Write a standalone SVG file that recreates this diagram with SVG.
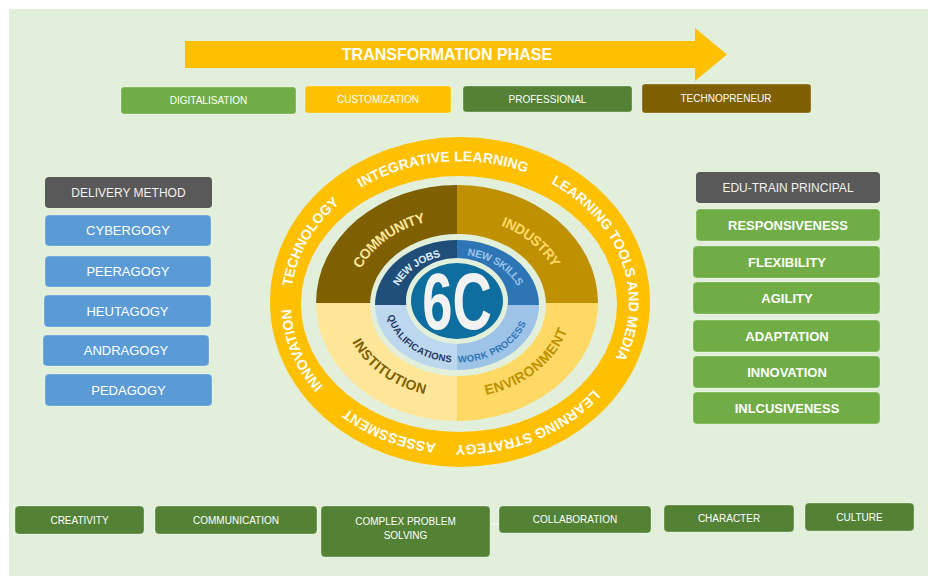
<svg xmlns="http://www.w3.org/2000/svg" width="928" height="576" viewBox="0 0 928 576">
  <style>
    .lbl { font-family: "Liberation Sans", Arial, sans-serif; text-anchor: middle; }
    .small { font-size: 10px; fill: #ffffff; }
    .method { font-size: 13px; fill: #ffffff; }
    .principle { font-size: 13px; font-weight: bold; fill: #ffffff; }
    .head { font-size: 12px; fill: #f2f2f2; }
    .ring { font-family: "Liberation Sans", Arial, sans-serif; font-size: 14px; font-weight: bold; fill: #ffffff; letter-spacing: 0.3px; }
    .quad { font-family: "Liberation Sans", Arial, sans-serif; font-size: 14px; font-weight: bold; }
    .core { font-family: "Liberation Sans", Arial, sans-serif; font-weight: bold; }
    .box { stroke: #ffffff; stroke-opacity: 0.3; stroke-width: 1; }
  </style>
  <defs>
    <!-- text guides on the outer ring (clockwise) -->
    <path id="pIntegrative" d="M290.5,269.9 A174,147 0 0 1 615.0,236.3"/>
    <path id="pTools" d="M472.1,156.4 A174,147 0 0 1 562.3,421.9"/>
    <path id="pStrategy" d="M632.3,282.5 A174,147 0 0 1 343.6,412.2"/>
    <path id="pAssessment" d="M576.4,412.2 A174,147 0 0 1 287.7,282.5"/>
    <path id="pInnovation" d="M450.9,449.8 A174,147 0 0 1 355.3,185.6"/>
    <path id="pTechnology" d="M341.3,410.5 A174,147 0 0 1 469.1,156.2"/>
    <!-- quadrant label guides -->
    <path id="pCommunity" d="M350.7,326.3 A110,90 0 0 1 485.5,216.1"/>
    <path id="pIndustry" d="M435.1,214.8 A110,90 0 0 1 561.3,331.6"/>
    <path id="pInstitution" d="M350.5,280.5 A110,90 0 0 0 486.4,389.7"/>
    <path id="pEnvironment" d="M432.3,390.7 A110,90 0 0 0 562.2,276.7"/>
    <!-- inner blue ring guides -->
    <path id="pJobs" d="M392.3,319.0 A68,54 0 0 1 475.6,252.8"/>
    <path id="pSkills" d="M436.2,253.9 A68,54 0 0 1 524.7,315.6"/>
    <path id="pQual" d="M392.3,291.0 A68,54 0 0 0 475.6,357.2"/>
    <path id="pWork" d="M433.1,355.2 A68,54 0 0 0 525.3,297.0"/>
  </defs>

  <!-- page -->
  <rect x="0" y="0" width="928" height="576" fill="#ffffff"/>
  <rect x="9" y="9" width="919" height="567" fill="#e2efda"/>

  <!-- phase arrow -->
  <g id="transformation-phase">
    <polygon points="185,41 695,41 695,28 727,54.5 695,81 695,68 185,68" fill="#ffc000"/>
    <text class="lbl" x="447" y="60" font-size="16" font-weight="bold" fill="#ffffff">TRANSFORMATION PHASE</text>
  </g>

  <!-- phase steps -->
  <g id="digitalisation">
    <rect class="box" x="121" y="87" width="175" height="27" rx="3" fill="#70ad47"/>
    <text class="lbl small" x="208.5" y="104">DIGITALISATION</text>
  </g>
  <g id="customization">
    <rect class="box" x="305" y="86" width="146" height="27" rx="3" fill="#ffc000"/>
    <text class="lbl small" x="378" y="103">CUSTOMIZATION</text>
  </g>
  <g id="professional">
    <rect class="box" x="463" y="86" width="169" height="26" rx="3" fill="#548235"/>
    <text class="lbl small" x="547.5" y="102.5">PROFESSIONAL</text>
  </g>
  <g id="technopreneur">
    <rect class="box" x="642" y="84" width="169" height="29" rx="3" fill="#7f6000"/>
    <text class="lbl small" x="726" y="102">TECHNOPRENEUR</text>
  </g>

  <!-- delivery methods -->
  <g id="delivery-method">
    <rect x="45" y="177" width="167" height="31" rx="4" fill="#595959"/>
    <text class="lbl head" x="128.5" y="196.7">DELIVERY METHOD</text>
  </g>
  <g id="cybergogy">
    <rect class="box" x="45" y="215" width="166" height="31" rx="4" fill="#5b9bd5"/>
    <text class="lbl method" x="128" y="235">CYBERGOGY</text>
  </g>
  <g id="peeragogy">
    <rect class="box" x="45" y="256" width="166" height="31" rx="4" fill="#5b9bd5"/>
    <text class="lbl method" x="128" y="276">PEERAGOGY</text>
  </g>
  <g id="heutagogy">
    <rect class="box" x="44" y="295" width="167" height="32" rx="4" fill="#5b9bd5"/>
    <text class="lbl method" x="127.5" y="315.5">HEUTAGOGY</text>
  </g>
  <g id="andragogy">
    <rect class="box" x="43" y="335" width="166" height="31" rx="4" fill="#5b9bd5"/>
    <text class="lbl method" x="126" y="355">ANDRAGOGY</text>
  </g>
  <g id="pedagogy">
    <rect class="box" x="45" y="374" width="167" height="32" rx="4" fill="#5b9bd5"/>
    <text class="lbl method" x="128.5" y="394.5">PEDAGOGY</text>
  </g>

  <!-- edu-train principles -->
  <g id="edu-train-principal">
    <rect x="696" y="172" width="184" height="31" rx="4" fill="#595959"/>
    <text class="lbl head" x="788" y="191.7">EDU-TRAIN PRINCIPAL</text>
  </g>
  <g id="responsiveness">
    <rect class="box" x="696" y="209" width="184" height="32" rx="4" fill="#70ad47"/>
    <text class="lbl principle" x="788" y="229.5">RESPONSIVENESS</text>
  </g>
  <g id="flexibility">
    <rect class="box" x="693" y="246" width="187" height="32" rx="4" fill="#70ad47"/>
    <text class="lbl principle" x="787" y="266.5">FLEXIBILITY</text>
  </g>
  <g id="agility">
    <rect class="box" x="693" y="282" width="187" height="32" rx="4" fill="#70ad47"/>
    <text class="lbl principle" x="787" y="302.5">AGILITY</text>
  </g>
  <g id="adaptation">
    <rect class="box" x="693" y="320" width="187" height="32" rx="4" fill="#70ad47"/>
    <text class="lbl principle" x="787" y="340.5">ADAPTATION</text>
  </g>
  <g id="innovation">
    <rect class="box" x="693" y="356" width="187" height="32" rx="4" fill="#70ad47"/>
    <text class="lbl principle" x="787" y="376.5">INNOVATION</text>
  </g>
  <g id="inclusiveness">
    <rect class="box" x="693" y="392" width="187" height="32" rx="4" fill="#70ad47"/>
    <text class="lbl principle" x="787" y="412.5">INLCUSIVENESS</text>
  </g>

  <!-- central 6C wheel -->
  <g id="wheel">
    <ellipse cx="460" cy="302" rx="190" ry="165" fill="#ffc000"/>
    <ellipse cx="459" cy="304" rx="158" ry="128" fill="#e2efda"/>

    <text class="ring"><textPath href="#pIntegrative" startOffset="50%" text-anchor="middle" dominant-baseline="central">INTEGRATIVE LEARNING</textPath></text>
    <text class="ring"><textPath href="#pTools" startOffset="50%" text-anchor="middle" dominant-baseline="central">LEARNING TOOLS AND MEDIA</textPath></text>
    <text class="ring"><textPath href="#pStrategy" startOffset="50%" text-anchor="middle" dominant-baseline="central">LEARNING STRATEGY</textPath></text>
    <text class="ring"><textPath href="#pAssessment" startOffset="50%" text-anchor="middle" dominant-baseline="central">ASSESSMENT</textPath></text>
    <text class="ring"><textPath href="#pInnovation" startOffset="50%" text-anchor="middle" dominant-baseline="central">INNOVATION</textPath></text>
    <text class="ring"><textPath href="#pTechnology" startOffset="50%" text-anchor="middle" dominant-baseline="central">TECHNOLOGY</textPath></text>

    <!-- stakeholder quadrants -->
    <path d="M457,303 L316,303 A141,118 0 0 1 457,185 Z" fill="#7f6000"/>
    <path d="M457,303 L457,185 A141,118 0 0 1 598,303 Z" fill="#bf9000"/>
    <path d="M457,303 L598,303 A141,118 0 0 1 457,421 Z" fill="#ffd966"/>
    <path d="M457,303 L457,421 A141,118 0 0 1 316,303 Z" fill="#ffe699"/>

    <text class="quad" fill="#ffe699"><textPath href="#pCommunity" startOffset="50%" text-anchor="middle" dominant-baseline="central">COMMUNITY</textPath></text>
    <text class="quad" fill="#ffd966"><textPath href="#pIndustry" startOffset="50%" text-anchor="middle" dominant-baseline="central">INDUSTRY</textPath></text>
    <text class="quad" fill="#7f6000"><textPath href="#pInstitution" startOffset="50%" text-anchor="middle" dominant-baseline="central">INSTITUTION</textPath></text>
    <text class="quad" fill="#bf9000"><textPath href="#pEnvironment" startOffset="50%" text-anchor="middle" dominant-baseline="central">ENVIRONMENT</textPath></text>

    <!-- outcome ring -->
    <ellipse cx="458" cy="305" rx="88" ry="71" fill="#e2efda"/>
    <path d="M457,305 L375,305 A82,65 0 0 1 457,240 Z" fill="#1f4e79"/>
    <path d="M457,305 L457,240 A82,65 0 0 1 539,305 Z" fill="#2e75b6"/>
    <path d="M457,305 L539,305 A82,65 0 0 1 457,370 Z" fill="#9dc3e6"/>
    <path d="M457,305 L457,370 A82,65 0 0 1 375,305 Z" fill="#bdd7ee"/>

    <text class="core" font-size="10.5" fill="#deebf7"><textPath href="#pJobs" startOffset="50%" text-anchor="middle" dominant-baseline="central">NEW JOBS</textPath></text>
    <text class="core" font-size="10.5" fill="#9dc3e6"><textPath href="#pSkills" startOffset="50%" text-anchor="middle" dominant-baseline="central">NEW SKILLS</textPath></text>
    <text class="core" font-size="9.5" fill="#1f3864"><textPath href="#pQual" startOffset="50%" text-anchor="middle" dominant-baseline="central">QUALIFICATIONS</textPath></text>
    <text class="core" font-size="9.5" fill="#2e75b6"><textPath href="#pWork" startOffset="50%" text-anchor="middle" dominant-baseline="central">WORK PROCESS</textPath></text>

    <!-- hub -->
    <ellipse cx="457" cy="301" rx="51" ry="43" fill="#e2efda"/>
    <ellipse cx="457" cy="301" rx="46" ry="38" fill="#0e6e9f"/>
    <text class="core" transform="translate(457,329) scale(0.68,1)" font-size="80" text-anchor="middle" fill="#f2f2f2">6C</text>
  </g>

  <!-- 6C competencies -->
  <g id="creativity">
    <rect class="box" x="15" y="506" width="129" height="28" rx="4" fill="#548235"/>
    <text class="lbl small" x="79.5" y="523.5">CREATIVITY</text>
  </g>
  <g id="communication">
    <rect class="box" x="155" y="506" width="162" height="28" rx="4" fill="#548235"/>
    <text class="lbl small" x="236" y="523.5">COMMUNICATION</text>
  </g>
  <g id="complex-problem-solving">
    <rect class="box" x="321" y="506" width="169" height="51" rx="4" fill="#548235"/>
    <text class="lbl small" x="405.5" y="525">COMPLEX PROBLEM</text>
    <text class="lbl small" x="405.5" y="538.5">SOLVING</text>
  </g>
  <g id="collaboration">
    <rect class="box" x="499" y="506" width="152" height="27" rx="4" fill="#548235"/>
    <text class="lbl small" x="575" y="523">COLLABORATION</text>
  </g>
  <g id="character">
    <rect class="box" x="664" y="505" width="130" height="27" rx="4" fill="#548235"/>
    <text class="lbl small" x="729" y="522">CHARACTER</text>
  </g>
  <g id="culture">
    <rect class="box" x="805" y="503" width="109" height="28" rx="4" fill="#548235"/>
    <text class="lbl small" x="859.5" y="520.5">CULTURE</text>
  </g>

  <g id="connectors">
    <line x1="490" y1="524" x2="499" y2="524" stroke="#ffffff" stroke-width="1"/>
  </g>
</svg>
